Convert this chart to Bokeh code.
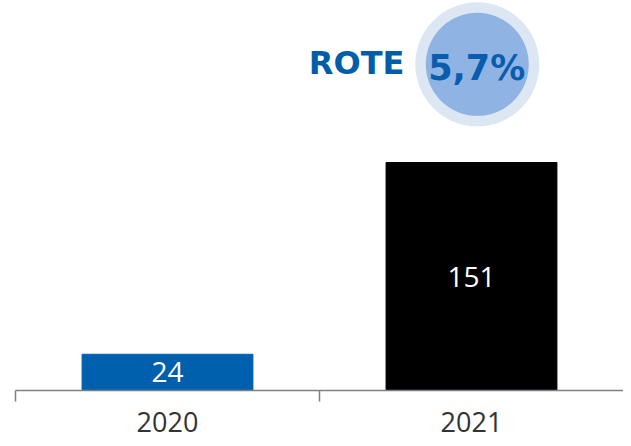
from bokeh.plotting import figure
from bokeh.models import Range1d, FixedTicker, ColumnDataSource, Label
from bokeh.core.properties import value
from bokeh.embed import file_html
from bokeh.resources import INLINE

# data
years = ["2020", "2021"]
amounts = [24, 151]
bar_colors = ["#0060AE", "#000000"]
amount_labels = ["24", "151"]
rote_label = "ROTE"
rote_value = "5,7%"

centers = [i + 0.5 for i in range(len(years))]
bounds = [float(i) for i in range(len(years))]

src = ColumnDataSource(dict(
    x=centers,
    top=amounts,
    mid=[a / 2 for a in amounts],
    color=bar_colors,
    lbl=amount_labels,
))

p = figure(width=623, height=438, output_backend="svg", toolbar_location=None,
           x_range=Range1d(0, len(years)), y_range=Range1d(0, 258.3),
           y_axis_location=None,
           min_border_left=15, min_border_right=0, min_border_top=0, min_border_bottom=48)
p.outline_line_color = None
p.xgrid.visible = False
p.ygrid.visible = False
p.background_fill_color = "white"
p.border_fill_color = "white"

p.vbar(x="x", top="top", bottom=0, width=0.562, color="color", source=src)
p.text(x="x", y="mid", text="lbl", source=src, text_color="white",
       text_align="center", text_baseline="middle",
       text_font=value("Open Sans"), text_font_size="28px")

ax = p.xaxis[0]
ax.ticker = FixedTicker(ticks=centers, minor_ticks=bounds)
ax.major_label_overrides = {c: y for c, y in zip(centers, years)}
ax.major_tick_line_color = None
ax.major_tick_in = 0
ax.major_tick_out = 0
ax.minor_tick_in = 0
ax.minor_tick_out = 11
ax.minor_tick_line_color = "#7F7F86"
ax.minor_tick_line_width = 1.5
ax.axis_line_color = "#7F7F86"
ax.axis_line_width = 1.5
ax.major_label_standoff = 10
ax.major_label_text_font = "Open Sans"
ax.major_label_text_font_size = "27px"
ax.major_label_text_color = "#333333"

# ROTE badge
p.scatter(x=[1.519], y=[216.0], size=124, marker="circle",
          fill_color="#DDE6F3", line_color=None)
p.scatter(x=[1.519], y=[216.0], size=103, marker="circle",
          fill_color="#8FB4E3", line_color=None)
p.add_layout(Label(x=1.279, y=217.2, text=rote_label, text_align="right",
                   text_baseline="middle", text_font="DejaVu Sans",
                   text_font_style="bold", text_font_size="32px",
                   text_color="#005DAA"))
p.add_layout(Label(x=1.517, y=213.7, text=rote_value, text_align="center",
                   text_baseline="middle", text_font="DejaVu Sans",
                   text_font_style="bold", text_font_size="35px",
                   text_color="#0A5DAE"))

open("out.html", "w").write(file_html(p, INLINE))
